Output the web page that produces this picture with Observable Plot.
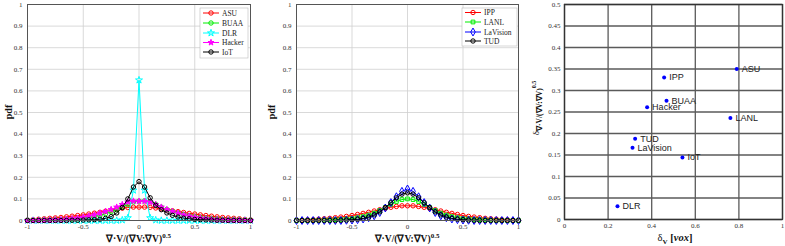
<!DOCTYPE html>
<html><head><meta charset="utf-8">
<script src="https://cdn.jsdelivr.net/npm/d3@7"></script>
<script src="https://cdn.jsdelivr.net/npm/@observablehq/plot@0.6"></script>
<style>
body{margin:0;background:#fff;}
#wrap{position:relative;width:785px;height:246px;overflow:hidden;background:#fff;}
#wrap > div{position:absolute;top:0;}
</style></head><body>
<div id="wrap"><div id="p1" style="left:0"></div><div id="p2" style="left:260px"></div><div id="p3" style="left:530px"></div></div>
<script>
// ---------- data ----------
const bins = [-1,-0.95,-0.9,-0.85,-0.8,-0.75,-0.7,-0.65,-0.6,-0.55,-0.5,-0.45,-0.4,-0.35,-0.3,-0.25,-0.2,-0.15,-0.1,-0.05,0,0.05,0.1,0.15,0.2,0.25,0.3,0.35,0.4,0.45,0.5,0.55,0.6,0.65,0.7,0.75,0.8,0.85,0.9,0.95,1];

const ASU = [0.002,0.004,0.006,0.008,0.01,0.012,0.014,0.017,0.02,0.023,0.026,0.03,0.034,0.038,0.043,0.048,0.053,0.057,0.06,0.062,0.062,0.062,0.061,0.058,0.054,0.049,0.045,0.041,0.037,0.033,0.03,0.026,0.023,0.02,0.017,0.014,0.012,0.01,0.008,0.005,0.003];
const BUAA = [0,0,0.001,0.001,0.002,0.003,0.004,0.005,0.006,0.008,0.011,0.014,0.018,0.024,0.031,0.04,0.05,0.062,0.075,0.086,0.09,0.091,0.087,0.075,0.062,0.051,0.042,0.034,0.028,0.022,0.018,0.014,0.011,0.009,0.007,0.005,0.004,0.003,0.002,0.001,0];
const DLR = [0,0,0,0,0,0,0,0,0,0,0,0,0,0,0,0,0,0.002,0.012,0.14,0.65,0.14,0.012,0.002,0,0,0,0,0,0,0,0,0,0,0,0,0,0,0,0,0];
const Hacker = [0,0,0.001,0.001,0.002,0.003,0.004,0.006,0.008,0.011,0.015,0.02,0.026,0.034,0.042,0.051,0.062,0.074,0.086,0.09,0.089,0.089,0.085,0.074,0.062,0.051,0.042,0.034,0.026,0.02,0.015,0.011,0.008,0.006,0.004,0.003,0.002,0.001,0.001,0,0];
const IoT = [0,0,0,0,0,0,0,0,0.001,0.001,0.002,0.003,0.004,0.006,0.01,0.018,0.035,0.06,0.1,0.155,0.18,0.155,0.105,0.07,0.05,0.035,0.024,0.016,0.011,0.008,0.005,0.004,0.003,0.002,0.001,0.001,0,0,0,0,0];

const IPP = [0.001,0.002,0.003,0.004,0.006,0.008,0.01,0.013,0.016,0.019,0.023,0.028,0.033,0.038,0.044,0.05,0.056,0.061,0.065,0.068,0.068,0.068,0.065,0.061,0.056,0.05,0.044,0.038,0.033,0.028,0.023,0.019,0.016,0.013,0.01,0.008,0.006,0.004,0.003,0.002,0.001];
const LANL = [0,0,0,0.001,0.001,0.002,0.003,0.004,0.005,0.007,0.009,0.013,0.018,0.025,0.034,0.046,0.06,0.075,0.088,0.097,0.1,0.097,0.088,0.075,0.06,0.046,0.034,0.025,0.018,0.013,0.009,0.007,0.005,0.004,0.003,0.002,0.001,0.001,0,0,0];
const LaVision = [0,0,0,0,0,0,0,0,0,0.001,0.002,0.004,0.007,0.013,0.022,0.037,0.058,0.083,0.11,0.135,0.146,0.135,0.11,0.083,0.058,0.037,0.022,0.013,0.007,0.004,0.002,0.001,0,0,0,0,0,0,0,0,0];
const TUD = [0,0,0,0,0,0,0,0,0.001,0.002,0.004,0.006,0.01,0.016,0.026,0.04,0.06,0.082,0.105,0.122,0.128,0.122,0.105,0.082,0.06,0.04,0.026,0.016,0.01,0.006,0.004,0.002,0.001,0,0,0,0,0,0,0,0];

const groups = ["ASU","IPP","BUAA","Hacker","LANL","TUD","LaVision","IoT","DLR"];
const deltaV = [0.79,0.457,0.468,0.379,0.761,0.324,0.312,0.541,0.243];
const deltaDiv = [0.35,0.33,0.276,0.261,0.236,0.188,0.167,0.144,0.031];

const pdfXTicks = [-1,-0.5,0,0.5,1];
const pdfYTicks = [0,0.1,0.2,0.3,0.4,0.5,0.6,0.7,0.8,0.9,1];
const scXTicks = [0,0.2,0.4,0.6,0.8,1];
const scYTicks = [0,0.05,0.1,0.15,0.2,0.25,0.3,0.35,0.4,0.45,0.5];

// ---------- styles ----------
const leftSeries = [
  {name:"ASU", values:ASU, color:"#ff0000", symbol:"circle", fill:"none", r:2.2},
  {name:"BUAA", values:BUAA, color:"#00ee00", symbol:"circle", fill:"none", r:2.2},
  {name:"DLR", values:DLR, color:"#00ffff", symbol:"star", fill:"none", r:2.2},
  {name:"Hacker", values:Hacker, color:"#ff00ff", symbol:"star", fill:"#ff00ff", r:1.9},
  {name:"IoT", values:IoT, color:"#000000", symbol:"circle", fill:"none", r:2.2}
];
const midSeries = [
  {name:"IPP", values:IPP, color:"#ff0000", symbol:"circle", fill:"none", r:2.2},
  {name:"LANL", values:LANL, color:"#00ee00", symbol:"square", fill:"none", r:2.1},
  {name:"LaVision", values:LaVision, color:"#0000ff", symbol:"diamond", fill:"none", r:2.4},
  {name:"TUD", values:TUD, color:"#000000", symbol:"circle", fill:"none", r:2.2}
];
const serif = "'Liberation Serif','Times New Roman',serif";
const sans = "'Liberation Sans',Arial,sans-serif";
const fmt = d => String(d);
const symMap = {circle:d3.symbolCircle, square:d3.symbolSquare, diamond:d3.symbolDiamond, star:d3.symbolStar};

function pdfPlot(series, W, mL, mR) {
  const marks = [
    Plot.gridY(pdfYTicks, {stroke:"#cfcfcf", strokeOpacity:1, strokeWidth:0.8}),
    Plot.gridX([-0.5,0,0.5], {stroke:"#cfcfcf", strokeOpacity:1, strokeWidth:0.8}),
    Plot.axisX(pdfXTicks, {tickSize:0, tickPadding:4, tickFormat:fmt, fontSize:7, fill:"#333", label:null}),
    Plot.axisY(pdfYTicks, {tickSize:0, tickPadding:5, tickFormat:fmt, fontSize:7, fill:"#333", label:null})
  ];
  for (const s of series) {
    const rows = bins.map((x,i)=>({x, y:s.values[i]}));
    marks.push(Plot.line(rows, {x:"x", y:"y", stroke:s.color, strokeWidth:1}));
    marks.push(Plot.dot(rows, {x:"x", y:"y", symbol:s.symbol, r:s.r, stroke:s.color, fill:s.fill, strokeWidth:1}));
  }
  marks.push(Plot.frame({stroke:"#555", strokeWidth:1}));
  return Plot.plot({
    width: W, height: 246, marginLeft: mL, marginRight: mR, marginTop: 4, marginBottom: 26,
    x: {domain:[-1,1]}, y: {domain:[0,1]},
    style: {fontFamily: serif, background:"transparent"},
    marks
  });
}

function addLegend(svg, series, x0, y0, w, h, rowY, lineX0, lineX1, textX) {
  const g = d3.select(svg).append("g").attr("text-anchor","start");
  g.append("rect").attr("x",x0).attr("y",y0).attr("width",w).attr("height",h)
    .attr("fill","#fff").attr("stroke","#bbb").attr("stroke-width",0.6);
  series.forEach((s,i)=>{
    const y = rowY[i];
    g.append("line").attr("x1",lineX0).attr("x2",lineX1).attr("y1",y).attr("y2",y)
      .attr("stroke",s.color).attr("stroke-width",1);
    g.append("path").attr("d", d3.symbol(symMap[s.symbol], s.r*s.r*Math.PI)())
      .attr("transform",`translate(${(lineX0+lineX1)/2},${y})`)
      .attr("fill", s.fill).attr("stroke", s.color).attr("stroke-width",1);
    g.append("text").attr("x",textX).attr("y",y).attr("dy","0.35em").attr("text-anchor","start")
      .attr("font-family",serif).attr("font-size",7.5).attr("fill","#222").text(s.name);
  });
}

function addPdfLabels(svg, yLabX, cx) {
  const s = d3.select(svg);
  s.append("text").attr("transform",`translate(${yLabX},112) rotate(-90)`)
    .attr("text-anchor","middle").attr("font-family",serif).attr("font-weight","bold")
    .attr("font-size",10).attr("fill","#111").text("pdf");
  const t = s.append("text").attr("x",cx).attr("y",242).attr("text-anchor","middle")
    .attr("font-family",serif).attr("font-weight","bold").attr("font-size",9.5).attr("fill","#111");
  t.append("tspan").text("∇·V/(∇V:∇V)");
  t.append("tspan").attr("dy",-4).attr("font-size",7).text("0.5");
}

// ---------- panel 1 ----------
const svg1 = pdfPlot(leftSeries, 260, 27, 10);
addLegend(svg1, leftSeries, 200, 8, 48, 50, [13,23,33,42.5,52], 203, 219, 222);
addPdfLabels(svg1, 12, 138.5);
document.getElementById("p1").appendChild(svg1);

// ---------- panel 2 ----------
const svg2 = pdfPlot(midSeries, 270, 36, 12);
addLegend(svg2, midSeries, 202, 8, 55, 38, [12.5,22,32,41], 205, 221, 224);
addPdfLabels(svg2, 15, 147);
document.getElementById("p2").appendChild(svg2);

// ---------- panel 3 ----------
const pts = groups.map((g,i)=>({g, x:deltaV[i], y:deltaDiv[i]}));
const svg3 = Plot.plot({
  width: 255, height: 246, marginLeft: 34, marginRight: 3, marginTop: 4, marginBottom: 27,
  x: {domain:[0,1]}, y: {domain:[0,0.5]},
  style: {fontFamily: serif, background:"transparent"},
  marks: [
    Plot.gridX(scXTicks, {stroke:"#5a5a5a", strokeOpacity:1, strokeWidth:1.3}),
    Plot.gridY(scYTicks, {stroke:"#5a5a5a", strokeOpacity:1, strokeWidth:1.3}),
    Plot.axisX(scXTicks, {tickSize:0, tickPadding:4, tickFormat:fmt, fontSize:7, fill:"#333", label:null}),
    Plot.axisY(scYTicks, {tickSize:0, tickPadding:4, tickFormat:fmt, fontSize:7, fill:"#333", label:null}),
    Plot.frame({stroke:"#333", strokeWidth:1.3}),
    Plot.dot(pts, {x:"x", y:"y", r:2, fill:"#0000ff", stroke:"none"}),
    Plot.text(pts, {x:"x", y:"y", text:"g", dx:5, textAnchor:"start", fontSize:9, fontFamily:sans, fill:"#222"})
  ]
});
{
  const s = d3.select(svg3);
  const t = s.append("text").attr("x",145).attr("y",241).attr("text-anchor","middle")
    .attr("font-family",serif).attr("font-size",10.5).attr("fill","#111");
  t.append("tspan").text("δ");
  t.append("tspan").attr("dy",2.5).attr("font-size",7).attr("font-weight","bold").text("V");
  t.append("tspan").attr("dy",-2.5).attr("font-weight","bold").text(" [");
  t.append("tspan").attr("font-weight","bold").attr("font-style","italic").text("vox");
  t.append("tspan").attr("font-weight","bold").text("]");
  const ty = s.append("text").attr("transform","translate(9,108) rotate(-90)").attr("text-anchor","middle")
    .attr("font-family",serif).attr("font-size",9).attr("fill","#111");
  ty.append("tspan").text("δ");
  ty.append("tspan").attr("dy",2.5).attr("font-size",7.5).attr("font-weight","bold").text("∇·V/(∇V:∇V)");
  ty.append("tspan").attr("dy",-6).attr("font-size",6).attr("font-weight","bold").text("0.5");
}
document.getElementById("p3").appendChild(svg3);
</script>
</body></html>
